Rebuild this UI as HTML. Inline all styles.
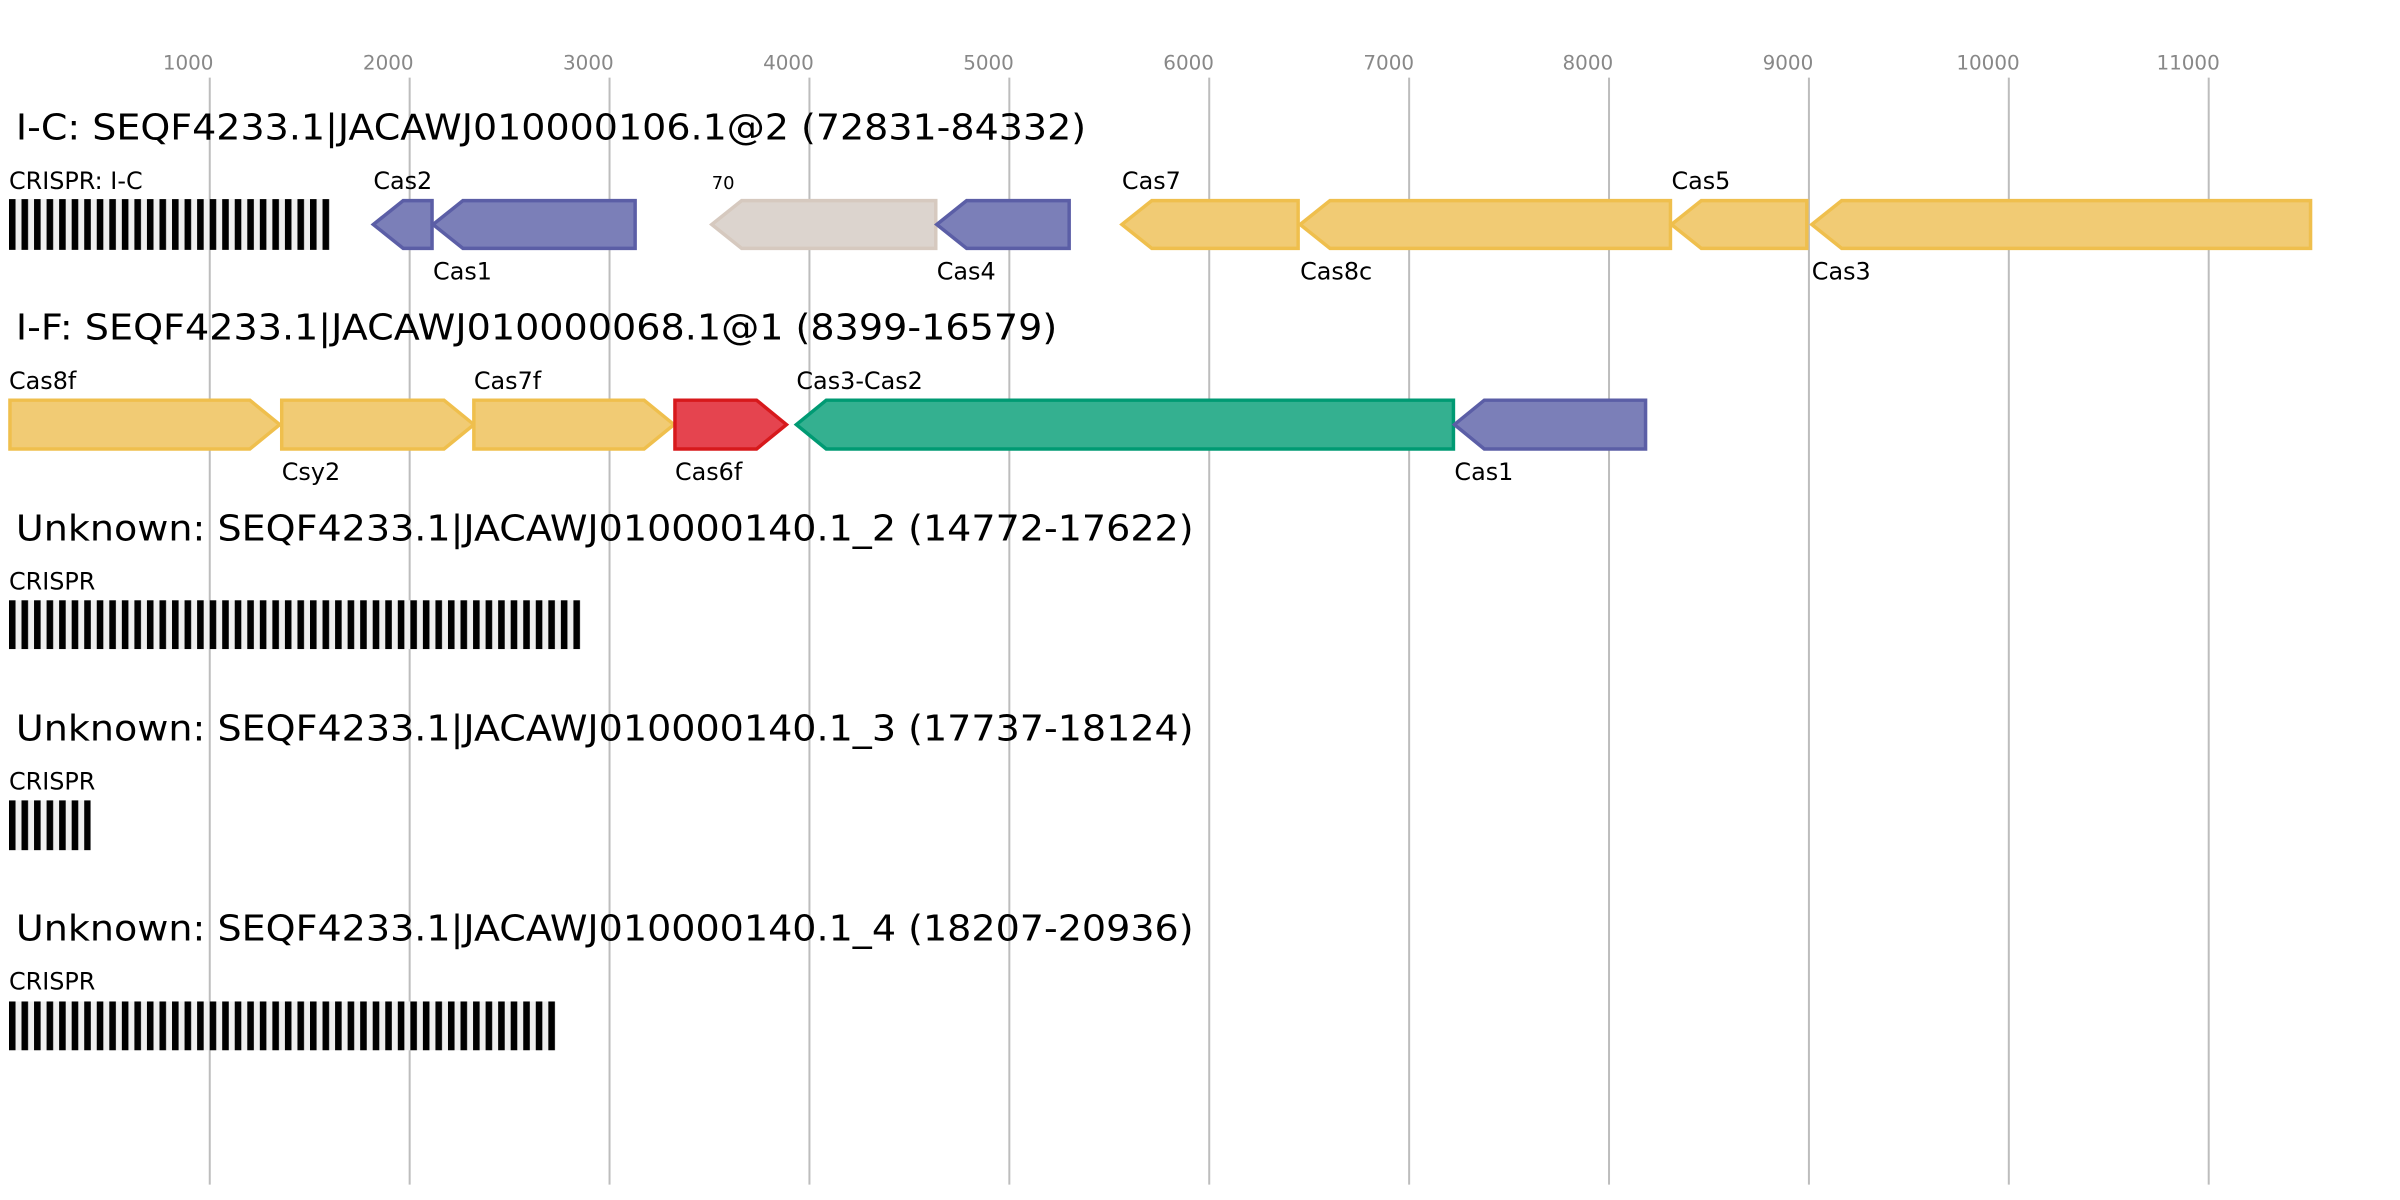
<!DOCTYPE html>
<html><head><meta charset="utf-8"><style>html,body{margin:0;padding:0;background:#fff}svg{display:block}</style></head>
<body>
<svg width="2400" height="1200" viewBox="0 0 2400 1200" xmlns="http://www.w3.org/2000/svg" font-family="DejaVu Sans, Liberation Sans, sans-serif">
<defs>
<pattern id="cr" x="9" y="0" width="12.6" height="100" patternUnits="userSpaceOnUse">
<rect x="0" y="0" width="12.6" height="100" fill="#efefef"/>
<rect x="0" y="0" width="6.6" height="100" fill="#000"/>
</pattern>
</defs>
<g transform="scale(0.9955)">
<g stroke="#bdbdbd" stroke-width="2">
<line x1="210.7" y1="78" x2="210.7" y2="1190"/><line x1="411.5" y1="78" x2="411.5" y2="1190"/><line x1="612.3" y1="78" x2="612.3" y2="1190"/><line x1="813.1" y1="78" x2="813.1" y2="1190"/><line x1="1013.9" y1="78" x2="1013.9" y2="1190"/><line x1="1214.7" y1="78" x2="1214.7" y2="1190"/><line x1="1415.5" y1="78" x2="1415.5" y2="1190"/><line x1="1616.3" y1="78" x2="1616.3" y2="1190"/><line x1="1817.1" y1="78" x2="1817.1" y2="1190"/><line x1="2017.9" y1="78" x2="2017.9" y2="1190"/><line x1="2218.7" y1="78" x2="2218.7" y2="1190"/>
</g>
<g fill="#888" font-size="20" text-anchor="middle">
<text x="189" y="70">1000</text><text x="390" y="70">2000</text><text x="591" y="70">3000</text><text x="792" y="70">4000</text><text x="993" y="70">5000</text><text x="1194" y="70">6000</text><text x="1395" y="70">7000</text><text x="1595" y="70">8000</text><text x="1796" y="70">9000</text><text x="1997" y="70">10000</text><text x="2198" y="70">11000</text>
</g>
<g font-size="36" fill="#000">
<text x="16" y="140" textLength="1075" lengthAdjust="spacingAndGlyphs">I-C: SEQF4233.1|JACAWJ010000106.1@2 (72831-84332)</text>
<text x="16" y="341" textLength="1046" lengthAdjust="spacingAndGlyphs">I-F: SEQF4233.1|JACAWJ010000068.1@1 (8399-16579)</text>
<text x="16" y="543" textLength="1183" lengthAdjust="spacingAndGlyphs">Unknown: SEQF4233.1|JACAWJ010000140.1_2 (14772-17622)</text>
<text x="16" y="744" textLength="1183" lengthAdjust="spacingAndGlyphs">Unknown: SEQF4233.1|JACAWJ010000140.1_3 (17737-18124)</text>
<text x="16" y="945" textLength="1183" lengthAdjust="spacingAndGlyphs">Unknown: SEQF4233.1|JACAWJ010000140.1_4 (18207-20936)</text>
</g>
<rect x="9" y="200" width="322" height="51" fill="url(#cr)"/>
<rect x="9" y="603" width="574" height="49" fill="url(#cr)"/>
<rect x="9" y="804" width="82" height="50" fill="url(#cr)"/>
<rect x="9" y="1006" width="549" height="49" fill="url(#cr)"/>
<g stroke-width="3.5" stroke-linejoin="miter">
<polygon points="375,225.5 405,201.5 434,201.5 434,249.5 405,249.5" fill="#7b7fb8" stroke="#5b5ea6"/>
<polygon points="435,225.5 465,201.5 638,201.5 638,249.5 465,249.5" fill="#7b7fb8" stroke="#5b5ea6"/>
<polygon points="715,225.5 745,201.5 940,201.5 940,249.5 745,249.5" fill="#dcd4ce" stroke="#d6c9bf"/>
<polygon points="941,225.5 971,201.5 1074,201.5 1074,249.5 971,249.5" fill="#7b7fb8" stroke="#5b5ea6"/>
<polygon points="1127,225.5 1157,201.5 1304,201.5 1304,249.5 1157,249.5" fill="#f1cb74" stroke="#efbf4d"/>
<polygon points="1306,225.5 1336,201.5 1678,201.5 1678,249.5 1336,249.5" fill="#f1cb74" stroke="#efbf4d"/>
<polygon points="1679,225.5 1709,201.5 1815,201.5 1815,249.5 1709,249.5" fill="#f1cb74" stroke="#efbf4d"/>
<polygon points="1820,225.5 1850,201.5 2321,201.5 2321,249.5 1850,249.5" fill="#f1cb74" stroke="#efbf4d"/>
<polygon points="10,402 251,402 281,426.5 251,451 10,451" fill="#f1cb74" stroke="#efbf4d"/>
<polygon points="283,402 446,402 476,426.5 446,451 283,451" fill="#f1cb74" stroke="#efbf4d"/>
<polygon points="476,402 647,402 677,426.5 647,451 476,451" fill="#f1cb74" stroke="#efbf4d"/>
<polygon points="678,402 760,402 790,426.5 760,451 678,451" fill="#e5444f" stroke="#d7191c"/>
<polygon points="800,426.5 830,402 1460,402 1460,451 830,451" fill="#34b090" stroke="#009a73"/>
<polygon points="1461,426.5 1491,402 1653,402 1653,451 1491,451" fill="#7b7fb8" stroke="#5b5ea6"/>
</g>
<g font-size="24" fill="#000">
<text x="9" y="190">CRISPR: I-C</text>
<text x="375" y="190">Cas2</text>
<text x="435" y="281">Cas1</text>
<text x="715" y="190" font-size="18">70</text>
<text x="941" y="281">Cas4</text>
<text x="1127" y="190">Cas7</text>
<text x="1306" y="281">Cas8c</text>
<text x="1679" y="190">Cas5</text>
<text x="1820" y="281">Cas3</text>
<text x="9" y="391">Cas8f</text>
<text x="283" y="482">Csy2</text>
<text x="476" y="391">Cas7f</text>
<text x="678" y="482">Cas6f</text>
<text x="800" y="391">Cas3-Cas2</text>
<text x="1461" y="482">Cas1</text>
<text x="9" y="592">CRISPR</text>
<text x="9" y="793">CRISPR</text>
<text x="9" y="994">CRISPR</text>
</g>
</g>
</svg>
</body></html>
